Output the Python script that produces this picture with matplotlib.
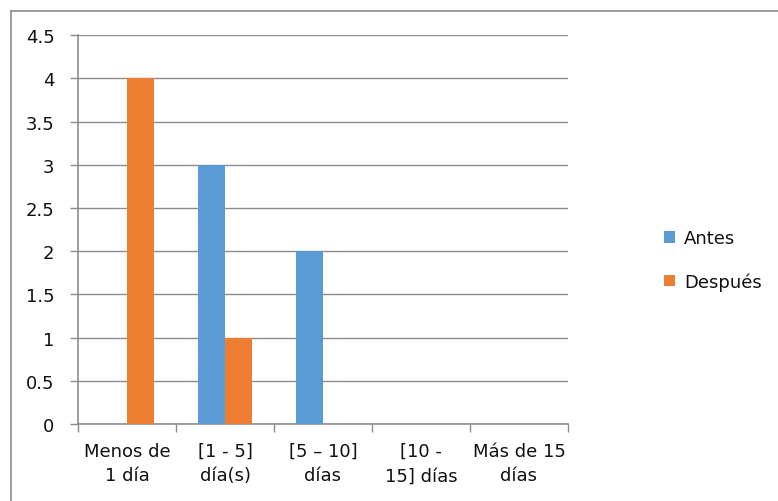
import numpy as np
import matplotlib.pyplot as plt
from matplotlib.lines import Line2D

# Días de demora, antes y después
categorias = ["Menos de\n1 día", "[1 - 5]\ndía(s)", "[5 – 10]\ndías", "[10 -\n15] días", "Más de 15\ndías"]
antes = [0, 3, 2, 0, 0]
despues = [4, 1, 0, 0, 0]

azul = "#5B9BD5"
naranja = "#ED7D31"
gris = "#8C8C8C"
texto = "#111111"

plt.rcParams['font.family'] = ['DejaVu Sans']
plt.rcParams['font.size'] = 13

fig = plt.figure(figsize=(7.78, 5.02), dpi=100)
ax = fig.add_axes([0.1003, 0.1534, 0.6297, 0.7746])

x = np.arange(len(categorias))
w = 0.276
ax.bar(x - w / 2, antes, w, color=azul, label="Antes", zorder=3)
ax.bar(x + w / 2, despues, w, color=naranja, label="Después", zorder=3)

ax.set_xlim(-0.5, len(categorias) - 0.5)
ax.set_ylim(0, 4.5)
ax.set_yticks(np.arange(0, 4.51, 0.5))
ax.set_yticklabels(["0", "0.5", "1", "1.5", "2", "2.5", "3", "3.5", "4", "4.5"])
ax.yaxis.grid(True, color=gris, linewidth=1, zorder=0)

# ticks en los límites de cada categoría, etiquetas centradas
ax.set_xticks(np.arange(-0.5, len(categorias), 1.0))
ax.set_xticklabels([])
ax.set_xticks(x, minor=True)
ax.set_xticklabels(categorias, minor=True, linespacing=1.45)
ax.tick_params(axis='x', which='major', length=6, color=gris, width=1)
ax.tick_params(axis='x', which='minor', length=0, pad=13, labelcolor=texto)
ax.tick_params(axis='y', length=6, color=gris, width=1, pad=11, labelcolor=texto)

for s in ["top", "right"]:
    ax.spines[s].set_visible(False)
for s in ["left", "bottom"]:
    ax.spines[s].set_color(gris)
    ax.spines[s].set_linewidth(1.2)

leg = fig.legend(loc="center left", bbox_to_anchor=(0.833, 0.48), frameon=False,
                 handlelength=0.6, handleheight=0.6, handletextpad=0.5,
                 labelspacing=1.4, fontsize=13)
for t in leg.get_texts():
    t.set_color(texto)

# marco exterior del gráfico (sólo se ven el borde superior e izquierdo)
x0, y0 = 11 / 778, 1 - 12 / 502
fig.add_artist(Line2D([x0, 1], [y0, y0], transform=fig.transFigure, color=gris, linewidth=1.2))
fig.add_artist(Line2D([x0, x0], [0, y0], transform=fig.transFigure, color=gris, linewidth=1.2))

fig.savefig("out.png", dpi=100)
